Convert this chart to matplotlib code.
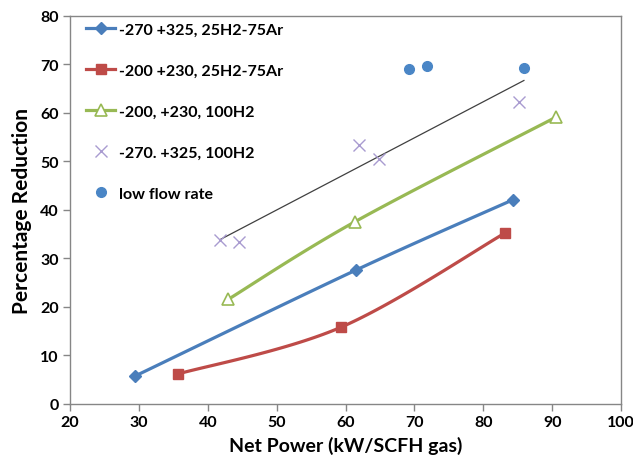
import numpy as np
import matplotlib
matplotlib.use("Agg")
import matplotlib.pyplot as plt
from matplotlib.lines import Line2D

plt.rcParams['font.family'] = ['Lato', 'DejaVu Sans']
plt.rcParams['font.weight'] = 'bold'

# Net power (kW/SCFH gas) vs percentage reduction
blue_x = [29.5, 61.5, 84.3]
blue_y = [5.8, 27.6, 42.1]
red_x = [35.7, 59.3, 83.1]
red_y = [6.2, 15.8, 35.2]
green_x = [43.0, 61.4, 90.5]
green_y = [21.6, 37.6, 59.1]
purple_x = [41.8, 44.6, 61.9, 64.9, 85.2]
purple_y = [33.9, 33.5, 53.5, 50.5, 62.2]
lowflow_x = [69.2, 71.9, 85.9]
lowflow_y = [69.1, 69.6, 69.2]
trend_x = [41.8, 85.9]
trend_y = [33.9, 66.7]

labels = ["-270 +325, 25H2-75Ar", "-200 +230, 25H2-75Ar",
          "-200, +230, 100H2", "-270. +325, 100H2", "low flow rate"]
x_ticks = [20, 30, 40, 50, 60, 70, 80, 90, 100]
y_ticks = [0, 10, 20, 30, 40, 50, 60, 70, 80]

BLUE = "#4a7ebb"
RED = "#be4b48"
GREEN = "#98b954"
PURPLE = "#a99bd0"
DOT = "#4a86c6"


def smooth(xs, ys, n=40):
    """Catmull-Rom style smoothing through the given points."""
    xs = np.asarray(xs, float)
    ys = np.asarray(ys, float)
    px = np.concatenate([[xs[0]], xs, [xs[-1]]])
    py = np.concatenate([[ys[0]], ys, [ys[-1]]])
    out_x, out_y = [], []
    for i in range(1, len(px) - 2):
        p0 = np.array([px[i], py[i]])
        p3 = np.array([px[i + 1], py[i + 1]])
        c1 = p0 + (p3 - np.array([px[i - 1], py[i - 1]])) / 6.0
        c2 = p3 - (np.array([px[i + 2], py[i + 2]]) - p0) / 6.0
        t = np.linspace(0, 1, n)[:, None]
        pts = ((1 - t) ** 3) * p0 + 3 * ((1 - t) ** 2) * t * c1 + 3 * (1 - t) * t ** 2 * c2 + t ** 3 * p3
        out_x.extend(pts[:, 0])
        out_y.extend(pts[:, 1])
    return out_x, out_y


fig = plt.figure(figsize=(6.33, 4.60), dpi=100)
ax = fig.add_axes([0.1106, 0.1196, 0.8705, 0.8435])

sx, sy = smooth(blue_x, blue_y)
ax.plot(sx, sy, color=BLUE, lw=2.3, zorder=3)
ax.plot(blue_x, blue_y, ls='none', marker='D', ms=6, color=BLUE, zorder=4)

sx, sy = smooth(red_x, red_y)
ax.plot(sx, sy, color=RED, lw=2.3, zorder=3)
ax.plot(red_x, red_y, ls='none', marker='s', ms=7.5, color=RED, zorder=4)

sx, sy = smooth(green_x, green_y)
ax.plot(sx, sy, color=GREEN, lw=2.3, zorder=3)
ax.plot(green_x, green_y, ls='none', marker='^', ms=8, mfc='white',
        mec=GREEN, mew=1.2, zorder=4)

ax.plot(purple_x, purple_y, ls='none', marker='x', ms=8, color=PURPLE,
        mew=1.0, zorder=4)
ax.plot(trend_x, trend_y, color='#404040', lw=0.9, zorder=3)
ax.plot(lowflow_x, lowflow_y, ls='none', marker='o', ms=7, color=DOT, zorder=5)

ax.set_xlim(20, 100)
ax.set_ylim(0, 80)
ax.set_xticks(x_ticks)
ax.set_yticks(y_ticks)
ax.tick_params(axis='both', direction='out', length=5, color='#868686',
               labelsize=11.5, width=1, pad=3)
for lab in ax.get_xticklabels() + ax.get_yticklabels():
    lab.set_fontweight('bold')
for s in ax.spines.values():
    s.set_color('#868686')
    s.set_linewidth(1)

ax.set_xlabel("Net Power (kW/SCFH gas)", fontsize=14, fontweight='bold', labelpad=5)
ax.set_ylabel("Percentage Reduction", fontsize=15, fontweight='bold', labelpad=6)

handles = [
    Line2D([], [], color=BLUE, lw=2.3, marker='D', ms=6),
    Line2D([], [], color=RED, lw=2.3, marker='s', ms=7.5),
    Line2D([], [], color=GREEN, lw=2.3, marker='^', ms=8, mfc='white', mec=GREEN, mew=1.2),
    Line2D([], [], ls='none', color=PURPLE, marker='x', ms=8, mew=1.0),
    Line2D([], [], ls='none', color=DOT, marker='o', ms=7),
]
ax.legend(handles, labels, loc='upper left', bbox_to_anchor=(0.017, 1.0),
          frameon=False, prop={'size': 11.5, 'weight': 'bold'},
          labelspacing=1.68, handlelength=1.85, handletextpad=0.2,
          borderaxespad=0.2, borderpad=0.2)

fig.savefig("out.png", dpi=100)
